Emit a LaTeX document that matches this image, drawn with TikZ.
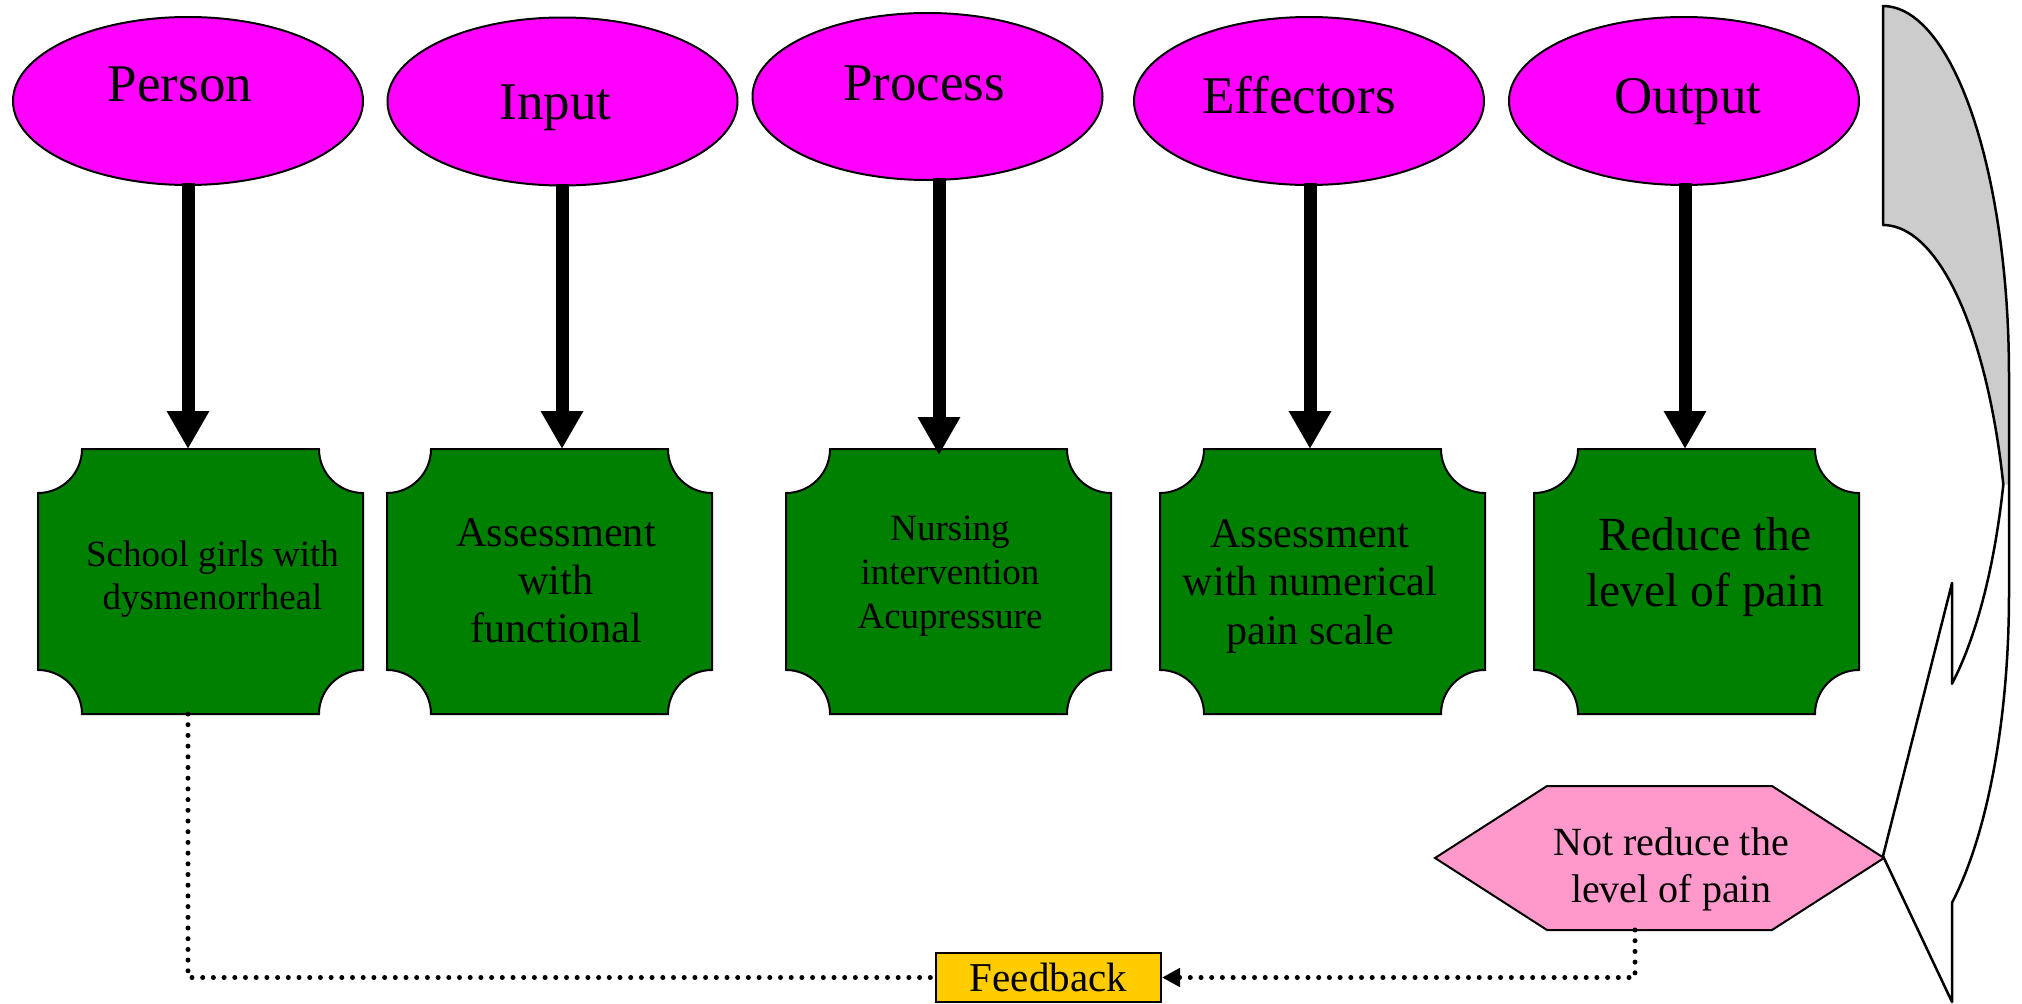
\documentclass[tikz,border=0pt]{standalone}
\usepackage{fontspec}
\setmainfont{Liberation Serif}
\usetikzlibrary{shapes.geometric,arrows.meta}
\definecolor{ovalfill}{HTML}{FF00FF}
\definecolor{boxfill}{HTML}{008000}
\definecolor{hexfill}{HTML}{FF99CC}
\definecolor{fbfill}{HTML}{FFCC00}
\definecolor{backfill}{HTML}{CCCCCC}
\newcommand\txtlines[3]{\fontsize{#1}{#2}\selectfont\begin{tabular}[t]{@{}c@{}}#3\end{tabular}}
\newcommand\cbox[4]{%
 \draw[boxstyle] ({#1+44},#2) -- ({#3-44},#2) .. controls ({#3-44},{#2+24.3}) and ({#3-24.3},{#2+44}) .. (#3,{#2+44}) -- (#3,{#4-44}) .. controls ({#3-24.3},{#4-44}) and ({#3-44},{#4-24.3}) .. ({#3-44},#4) -- ({#1+44},#4) .. controls ({#1+44},{#4-24.3}) and ({#1+24.3},{#4-44}) .. (#1,{#4-44}) -- (#1,{#2+44}) .. controls ({#1+24.3},{#2+44}) and ({#1+44},{#2+24.3}) .. cycle;}
\begin{document}
\begin{tikzpicture}[x=1pt,y=-1pt,
  oval/.style={ellipse, draw=black, line width=2pt, fill=ovalfill, inner sep=0pt, minimum width=350pt, minimum height=168pt},
  boxstyle/.style={draw=black, line width=2pt, fill=boxfill},
  lbl/.style={anchor=base, inner sep=0pt},
  bigarrow/.style={line width=13pt, -{Triangle[length=38pt,width=40pt]}},
  dotline/.style={line width=5pt, line cap=round, dash pattern=on 0pt off 10.7pt},
  curvedline/.style={draw=black, line width=2.5pt, line join=round}]
\fill[white] (0,0) rectangle (2022,1004);
\useasboundingbox (0,0) rectangle (2022,1004);

% ellipses
\node[oval] (e1) at (188,101) {};
\node[oval] (e2) at (562.5,101.5) {};
\node[oval, minimum height=167pt] (e3) at (927.5,96.5) {};
\node[oval] (e4) at (1309,101) {};
\node[oval] (e5) at (1684,101) {};
\node[lbl, font=\fontsize{53}{60}\selectfont] (l1) at (180,101.7) {Person};
\node[lbl, font=\fontsize{53}{60}\selectfont] (l2) at (555.6,119) {Input};
\node[lbl, font=\fontsize{53}{60}\selectfont] (l3) at (924,100) {Process};
\node[lbl, font=\fontsize{53}{60}\selectfont] (l4) at (1299,113) {Effectors};
\node[lbl, font=\fontsize{53}{60}\selectfont] (l5) at (1688,113) {Output};

% boxes
\cbox{38}{449}{363}{714}
\cbox{387}{449}{712}{714}
\cbox{786}{449}{1111}{714}
\cbox{1160}{449}{1485}{714}
\cbox{1534}{449}{1859}{714}
\node[lbl] (t1) at (212.5,566.7) {\txtlines{37}{42.5}{School girls with\\dysmenorrheal}};
\node[lbl] (t2) at (556,546.7) {\txtlines{42.3}{48}{Assessment\\with\\functional}};
\node[lbl] (t3) at (950,540) {\txtlines{37}{44}{Nursing\\intervention\\Acupressure}};
\node[lbl] (t4) at (1310,547) {\txtlines{42.2}{48.5}{Assessment\\with numerical\\pain scale}};
\node[lbl] (t5) at (1705,550) {\txtlines{47.6}{56.7}{Reduce the\\level of pain}};

% arrow ends
\coordinate (a1) at (188,449);
\coordinate (a2) at (562,449);
\coordinate (a3) at (939,455);
\coordinate (a4) at (1310,449);
\coordinate (a5) at (1685,449);
\draw[bigarrow] (e1.south -| a1) ++(0,-3) -- (a1);
\draw[bigarrow] (e2.south -| a2) ++(0,-3) -- (a2);
\draw[bigarrow] (e3.south -| a3) ++(0,-3) -- (a3);
\draw[bigarrow] (e4.south -| a4) ++(0,-3) -- (a4);
\draw[bigarrow] (e5.south -| a5) ++(0,-3) -- (a5);

% hexagon
\draw[line width=2pt, fill=hexfill] (1435,858) -- (1547,786) -- (1772,786) -- (1884,858) -- (1772,930) -- (1547,930) -- cycle;
\node[lbl] (hx) at (1671,855.5) {\txtlines{40}{46.5}{Not reduce the\\level of pain}};
\coordinate (hexbot) at (1635,930);
\coordinate (b1bot) at (188,714);

% feedback
\node[draw=black, line width=2pt, fill=fbfill, minimum width=225pt, minimum height=49pt, inner sep=0pt, font=\fontsize{41}{48}\selectfont] (fb) at (1048.5,977.5) {Feedback};
\draw[dotline] (b1bot) |- (fb.west);
\draw[dotline, -{Triangle[length=18pt,width=18pt]}] (hexbot) |- (fb.east);

% curved arrow
\fill[white] plot[variable=\t, domain=0:56.8, samples=30] ({1883+126*cos(\t)},{375+369*sin(\t)}) -- (1952,583) -- (1883,856) -- (1952,1002) -- (1952,903) -- plot[variable=\t, domain=56.8:0, samples=30] ({1883+126*cos(\t)},{594+369*sin(\t)}) -- cycle;
\fill[backfill] plot[variable=\t, domain=-90:0, samples=40] ({1883+126*cos(\t)},{375+369*sin(\t)}) -- (2009,484.5) -- plot[variable=\t, domain=-17.26:-90, samples=40] ({1883+126*cos(\t)},{594+369*sin(\t)}) -- cycle;
\draw[curvedline] plot[variable=\t, domain=-90:0, samples=40] ({1883+126*cos(\t)},{375+369*sin(\t)}) -- (2009,594) -- plot[variable=\t, domain=0:56.8, samples=30] ({1883+126*cos(\t)},{594+369*sin(\t)}) -- (1952,1002) -- (1883,856) -- (1952,583) -- plot[variable=\t, domain=56.8:17.26, samples=30] ({1883+126*cos(\t)},{375+369*sin(\t)}) -- plot[variable=\t, domain=-17.26:-90, samples=40] ({1883+126*cos(\t)},{594+369*sin(\t)}) -- cycle;
\end{tikzpicture}
\end{document}
